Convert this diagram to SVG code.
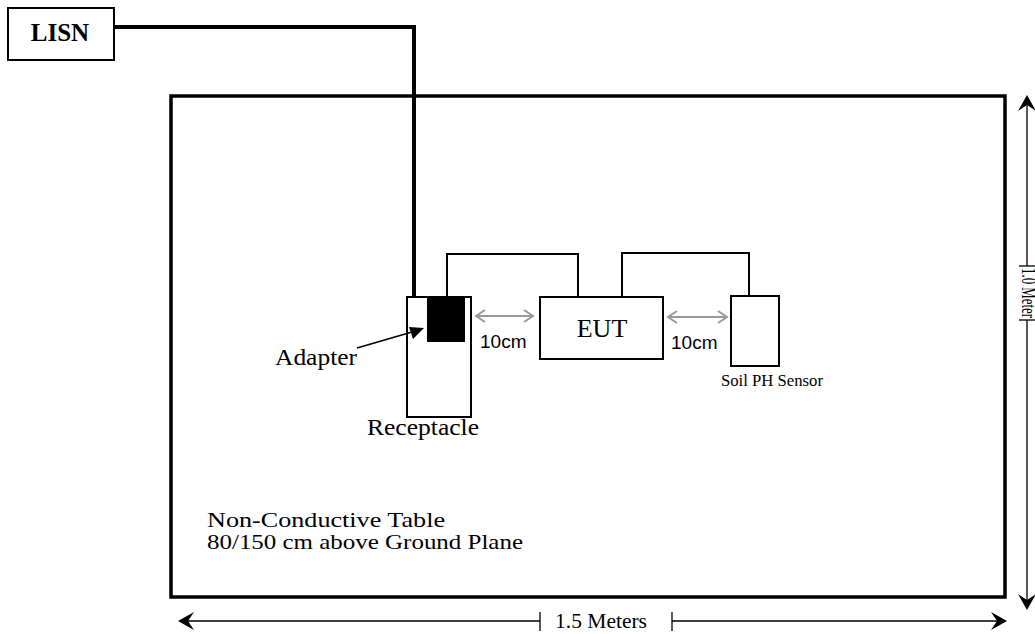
<svg xmlns="http://www.w3.org/2000/svg" width="1035" height="634" viewBox="0 0 1035 634">
<style>
.box{fill:#fff;stroke:#000;stroke-width:2}
.wire{fill:none;stroke:#000;stroke-width:2}
.gray{fill:none;stroke:#999;stroke-width:2}
.dim{fill:none;stroke:#000;stroke-width:1.3}
</style>
<rect width="1035" height="634" fill="#fff"/>
<g font-family="'Liberation Serif', 'Times New Roman', serif" fill="#000">
<g id="table">
<rect x="171" y="96" width="834" height="501" fill="none" stroke="#000" stroke-width="3.5"/>
<text x="207" y="527" font-size="21" textLength="238" lengthAdjust="spacingAndGlyphs">Non-Conductive Table</text>
<text x="207" y="549" font-size="21" textLength="316" lengthAdjust="spacingAndGlyphs">80/150 cm above Ground Plane</text>
</g>
<g id="lisn">
<rect class="box" x="8" y="8" width="106" height="52"/>
<text x="60" y="41" font-size="25" font-weight="bold" text-anchor="middle">LISN</text>
</g>
<g id="receptacle">
<rect class="box" x="407" y="297" width="64" height="120"/>
<text x="367" y="435" font-size="23" textLength="112" lengthAdjust="spacingAndGlyphs">Receptacle</text>
</g>
<g id="adapter">
<rect x="427" y="297" width="38" height="45" fill="#000"/>
<text x="275" y="365" font-size="23" textLength="82" lengthAdjust="spacingAndGlyphs">Adapter</text>
</g>
<g id="eut">
<rect class="box" x="540" y="297" width="123" height="62"/>
<text x="602" y="337" font-size="26" text-anchor="middle">EUT</text>
</g>
<g id="sensor">
<rect class="box" x="731" y="296" width="48" height="70"/>
<text x="721" y="386" font-size="16" textLength="102" lengthAdjust="spacingAndGlyphs">Soil PH Sensor</text>
</g>
</g>
<g id="connectors">
<polyline points="114,27 414,27 414,297" fill="none" stroke="#000" stroke-width="4" stroke-linejoin="miter"/>
<polyline class="wire" points="447,297 447,254 578,254 578,297"/>
<polyline class="wire" points="622,297 622,253 749,253 749,296"/>
<line x1="357" y1="348" x2="412" y2="332" stroke="#000" stroke-width="1.5"/>
<polygon points="424,328 409,327 413,339" fill="#000"/>
<line class="gray" x1="476" y1="316" x2="533" y2="316"/>
<polyline class="gray" points="485,310 476,316 485,322"/>
<polyline class="gray" points="524,310 533,316 524,322"/>
<text font-family="'Liberation Sans', Arial, sans-serif" x="480" y="348" font-size="19" fill="#000">10cm</text>
<line class="gray" x1="668" y1="317" x2="727" y2="317"/>
<polyline class="gray" points="677,311 668,317 677,323"/>
<polyline class="gray" points="718,311 727,317 718,323"/>
<text font-family="'Liberation Sans', Arial, sans-serif" x="671" y="349" font-size="19" fill="#000">10cm</text>
</g>
<g id="dimensions" font-family="'Liberation Serif', 'Times New Roman', serif" fill="#000">
<line class="dim" x1="182" y1="621" x2="540" y2="621"/>
<line class="dim" x1="540" y1="612" x2="540" y2="631"/>
<line class="dim" x1="672" y1="621" x2="1002" y2="621"/>
<line class="dim" x1="672" y1="612" x2="672" y2="631"/>
<polygon points="178,621 194,612 188,621 194,630" fill="#000"/>
<polygon points="1007,621 991,612 997,621 991,630" fill="#000"/>
<text x="555" y="628" font-size="21" textLength="92" lengthAdjust="spacingAndGlyphs">1.5 Meters</text>
<line class="dim" x1="1027" y1="99" x2="1027" y2="266"/>
<line class="dim" x1="1019" y1="266" x2="1035" y2="266"/>
<line class="dim" x1="1027" y1="320" x2="1027" y2="606"/>
<line class="dim" x1="1019" y1="320" x2="1035" y2="320"/>
<polygon points="1027,95 1018,111 1027,105 1036,111" fill="#000"/>
<polygon points="1027,610 1018,594 1027,600 1036,594" fill="#000"/>
<text x="268" y="-1022" font-size="21" textLength="50" lengthAdjust="spacingAndGlyphs" transform="rotate(90)">1.0 Meter</text>
</g>
</svg>
